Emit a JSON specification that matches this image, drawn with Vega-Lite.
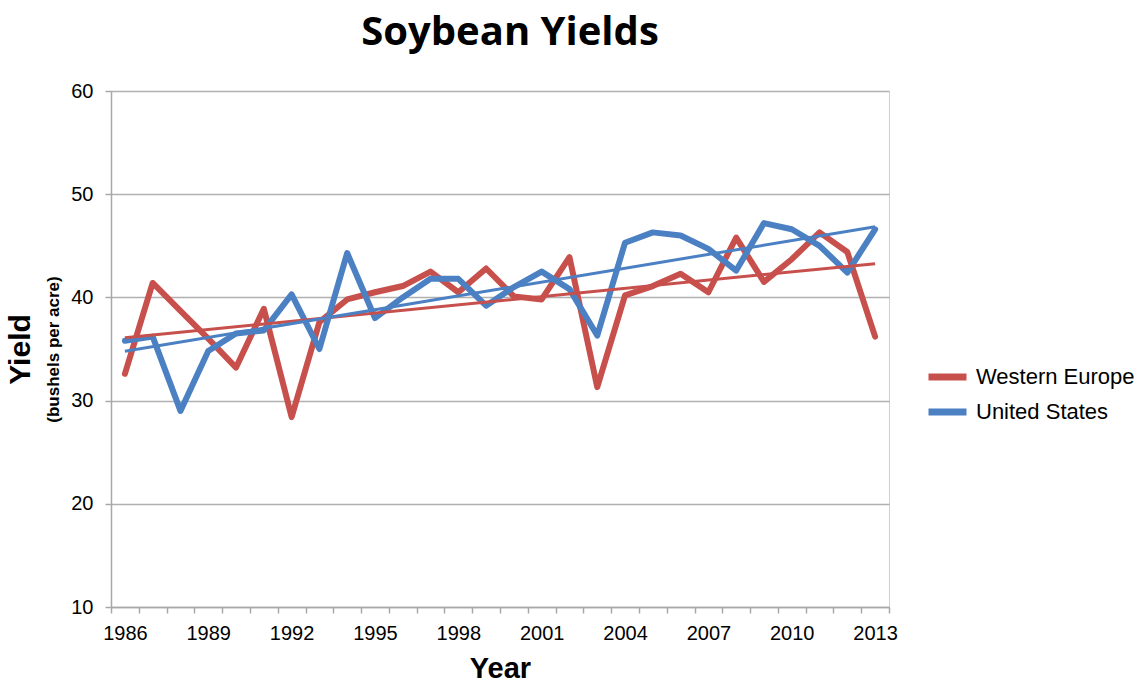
{
  "$schema": "https://vega.github.io/schema/vega-lite/v6.json",
  "autosize": {"type": "none"},
  "padding": {"left": 111, "top": 91, "right": 251, "bottom": 78},
  "width": 778,
  "height": 516,
  "background": "white",
  "title": {
    "text": "Soybean Yields",
    "font": "Open Sans",
    "fontSize": 40,
    "fontWeight": "bold",
    "color": "#000000",
    "anchor": "middle",
    "dx": 10,
    "offset": 28
  },
  "config": {
    "view": {"stroke": "#cfcfcf", "strokeWidth": 1},
    "font": "Liberation Sans"
  },
  "data": {
    "values": [
      {"year": 1986, "region": "Western Europe", "yield": 32.6},
      {"year": 1987, "region": "Western Europe", "yield": 41.4},
      {"year": 1988, "region": "Western Europe", "yield": 38.7},
      {"year": 1989, "region": "Western Europe", "yield": 36.0},
      {"year": 1990, "region": "Western Europe", "yield": 33.2},
      {"year": 1991, "region": "Western Europe", "yield": 38.9},
      {"year": 1992, "region": "Western Europe", "yield": 28.4},
      {"year": 1993, "region": "Western Europe", "yield": 37.6},
      {"year": 1994, "region": "Western Europe", "yield": 39.8},
      {"year": 1995, "region": "Western Europe", "yield": 40.5},
      {"year": 1996, "region": "Western Europe", "yield": 41.1},
      {"year": 1997, "region": "Western Europe", "yield": 42.5},
      {"year": 1998, "region": "Western Europe", "yield": 40.5},
      {"year": 1999, "region": "Western Europe", "yield": 42.8},
      {"year": 2000, "region": "Western Europe", "yield": 40.1},
      {"year": 2001, "region": "Western Europe", "yield": 39.8},
      {"year": 2002, "region": "Western Europe", "yield": 43.9},
      {"year": 2003, "region": "Western Europe", "yield": 31.3},
      {"year": 2004, "region": "Western Europe", "yield": 40.2},
      {"year": 2005, "region": "Western Europe", "yield": 41.1},
      {"year": 2006, "region": "Western Europe", "yield": 42.3},
      {"year": 2007, "region": "Western Europe", "yield": 40.5},
      {"year": 2008, "region": "Western Europe", "yield": 45.8},
      {"year": 2009, "region": "Western Europe", "yield": 41.5},
      {"year": 2010, "region": "Western Europe", "yield": 43.7},
      {"year": 2011, "region": "Western Europe", "yield": 46.3},
      {"year": 2012, "region": "Western Europe", "yield": 44.4},
      {"year": 2013, "region": "Western Europe", "yield": 36.2},
      {"year": 1986, "region": "United States", "yield": 35.8},
      {"year": 1987, "region": "United States", "yield": 36.2},
      {"year": 1988, "region": "United States", "yield": 29.0},
      {"year": 1989, "region": "United States", "yield": 34.8},
      {"year": 1990, "region": "United States", "yield": 36.5},
      {"year": 1991, "region": "United States", "yield": 36.8},
      {"year": 1992, "region": "United States", "yield": 40.3},
      {"year": 1993, "region": "United States", "yield": 35.0},
      {"year": 1994, "region": "United States", "yield": 44.3},
      {"year": 1995, "region": "United States", "yield": 38.0},
      {"year": 1996, "region": "United States", "yield": 40.0},
      {"year": 1997, "region": "United States", "yield": 41.8},
      {"year": 1998, "region": "United States", "yield": 41.8},
      {"year": 1999, "region": "United States", "yield": 39.2},
      {"year": 2000, "region": "United States", "yield": 41.0},
      {"year": 2001, "region": "United States", "yield": 42.5},
      {"year": 2002, "region": "United States", "yield": 40.8},
      {"year": 2003, "region": "United States", "yield": 36.3},
      {"year": 2004, "region": "United States", "yield": 45.3},
      {"year": 2005, "region": "United States", "yield": 46.3},
      {"year": 2006, "region": "United States", "yield": 46.0},
      {"year": 2007, "region": "United States", "yield": 44.7},
      {"year": 2008, "region": "United States", "yield": 42.6},
      {"year": 2009, "region": "United States", "yield": 47.2},
      {"year": 2010, "region": "United States", "yield": 46.6},
      {"year": 2011, "region": "United States", "yield": 45.0},
      {"year": 2012, "region": "United States", "yield": 42.4},
      {"year": 2013, "region": "United States", "yield": 46.6}
    ]
  },
  "resolve": {"scale": {"y": "shared"}, "axis": {"y": "independent"}},
  "layer": [
    {
      "mark": {"type": "line", "strokeWidth": 6, "strokeJoin": "round", "strokeCap": "round"},
      "encoding": {
        "x": {
          "field": "year",
          "type": "ordinal",
          "scale": {"type": "band", "paddingInner": 0, "paddingOuter": 0},
          "axis": {
            "title": "Year",
            "titleFont": "Liberation Sans",
            "titleFontSize": 29,
            "titleFontWeight": "bold",
            "titleColor": "#000000",
            "titlePadding": 11,
            "labelAngle": 0,
            "labelFontSize": 20,
            "labelColor": "#000000",
            "labelPadding": 10,
            "labelExpr": "(datum.value - 1986) % 3 == 0 ? datum.label : ''",
            "tickBand": "extent",
            "tickSize": 6,
            "tickColor": "#a8a8a8",
            "tickWidth": 1.5,
            "domainColor": "#a8a8a8",
            "domainWidth": 1.5,
            "grid": false
          }
        },
        "y": {
          "field": "yield",
          "type": "quantitative",
          "scale": {"domain": [10, 60], "nice": false, "zero": false},
          "axis": {
            "orient": "left",
            "values": [10, 20, 30, 40, 50, 60],
            "title": "(bushels per acre)",
            "titleFont": "Liberation Sans",
            "titleFontSize": 17,
            "titleFontWeight": "bold",
            "titleColor": "#000000",
            "titlePadding": 8,
            "labelFontSize": 20,
            "labelColor": "#000000",
            "labelPadding": 12,
            "tickSize": 6,
            "tickColor": "#a8a8a8",
            "tickWidth": 1.5,
            "domainColor": "#a8a8a8",
            "domainWidth": 1.5,
            "grid": true,
            "gridColor": "#b0b0b0",
            "gridWidth": 1.5
          }
        },
        "color": {
          "field": "region",
          "type": "nominal",
          "scale": {"domain": ["Western Europe", "United States"], "range": ["#C8504C", "#4B80C3"]},
          "legend": {
            "title": null,
            "orient": "none",
            "legendX": 814,
            "legendY": 271,
            "symbolType": "stroke",
            "symbolStrokeWidth": 7,
            "symbolSize": 1444,
            "labelFontSize": 22,
            "labelColor": "#000000",
            "labelOffset": 6,
            "clipHeight": 30,
            "rowPadding": 5
          }
        }
      }
    },
    {
      "transform": [
        {"regression": "yield", "on": "year", "groupby": ["region"]}
      ],
      "mark": {"type": "line", "strokeWidth": 3},
      "encoding": {
        "x": {"field": "year", "type": "ordinal"},
        "y": {
          "field": "yield",
          "type": "quantitative",
          "axis": {
            "orient": "left",
            "title": "Yield",
            "titleFont": "Liberation Sans",
            "titleFontSize": 30,
            "titleFontWeight": "bold",
            "titleColor": "#000000",
            "titlePadding": 76,
            "labels": false,
            "ticks": false,
            "domain": false,
            "grid": false
          }
        },
        "color": {"field": "region", "type": "nominal"}
      }
    }
  ]
}
